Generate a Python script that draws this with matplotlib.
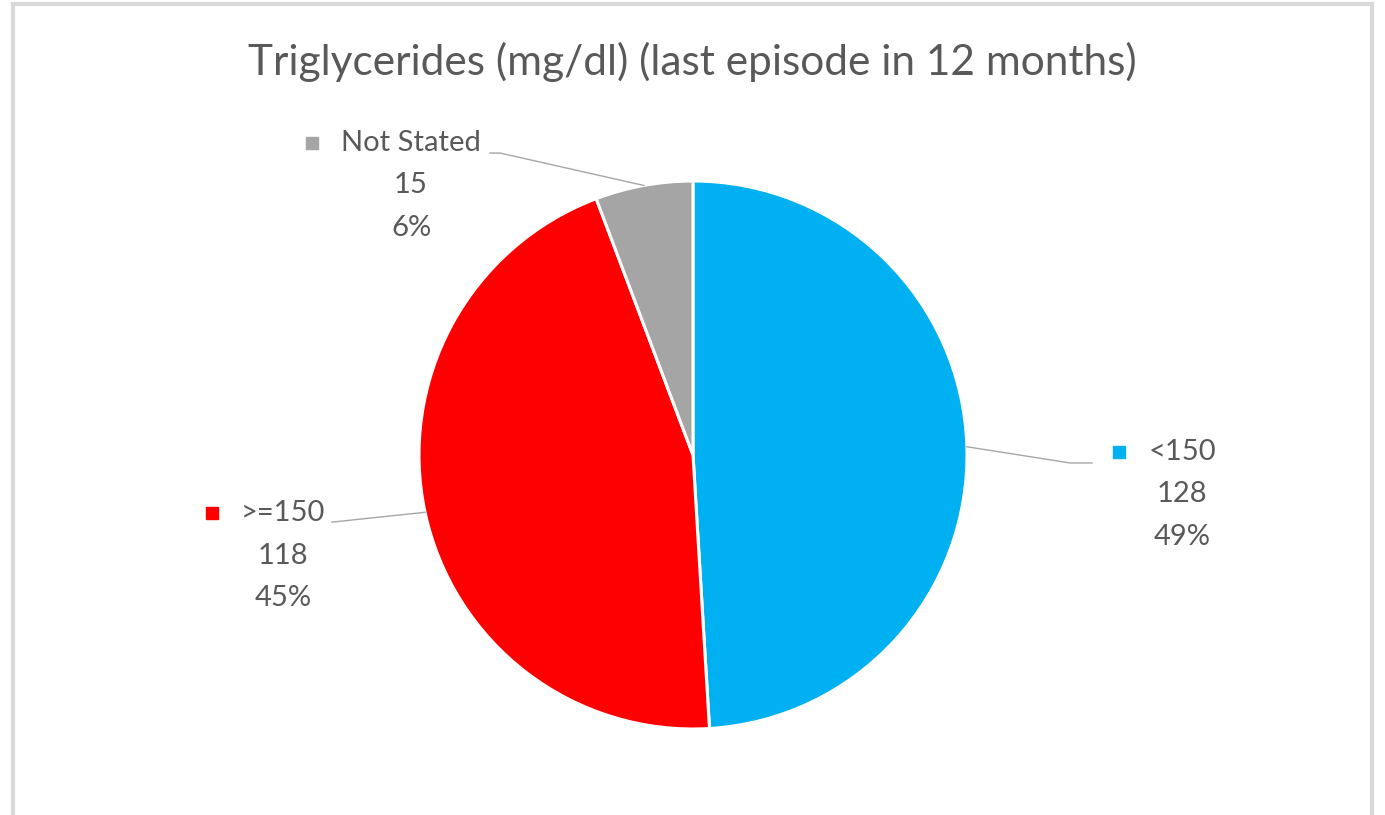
import numpy as np
import matplotlib.pyplot as plt
from matplotlib.patches import Rectangle

plt.rcParams['font.family'] = ['Lato', 'DejaVu Sans']

# data
categories = ['<150', '>=150', 'Not Stated']
counts = [128, 118, 15]
colors = ['#00B0F0', '#FF0000', '#A5A5A5']
title = 'Triglycerides (mg/dl) (last episode in 12 months)'

# label anchors (units of pie radius), leader elbow points
label_pos = [(1.785, 0.011), (-1.496, -0.212), (-1.029, 1.139)]
elbows = [[(1.376, -0.029), (1.456, -0.029)],
          [(-1.318, -0.245)],
          [(-0.704, 1.102), (-0.741, 1.102)]]

W, H = 1385, 815
cx, cy, R = 693, 455, 274
fig = plt.figure(figsize=(W / 100, H / 100), dpi=100)
ax = fig.add_axes([0, 0, 1, 1])

# chart border (bottom cut off in the reference)
fig.patches.append(Rectangle((13 / W, -0.05), (1372 - 13) / W, 1.05 - 4 / H,
                             transform=fig.transFigure, fill=False,
                             edgecolor='#D9D9D9', lw=3))

wedges, _ = ax.pie(counts, colors=colors, startangle=90, counterclock=False,
                   radius=1, center=(0, 0), frame=True,
                   wedgeprops=dict(edgecolor='white', linewidth=2.2))
ax.set_xlim(-cx / R, (W - cx) / R)
ax.set_ylim((cy - H) / R, cy / R)
ax.axis('off')

total = sum(counts)
txt_col = '#595959'
fs = 21
dy = 42.5 / R
fig.canvas.draw()
renderer = fig.canvas.get_renderer()
for w, cat, n, (lx, ly), el, col in zip(wedges, categories, counts, label_pos, elbows, colors):
    mid = np.deg2rad((w.theta1 + w.theta2) / 2)
    pts = [(np.cos(mid), np.sin(mid))] + el
    xs, ys = zip(*pts)
    ax.plot(xs, ys, color='#A6A6A6', lw=1.0, clip_on=False)
    t = ax.text(lx, ly, cat, ha='center', va='center', fontsize=fs, color=txt_col)
    ax.text(lx, ly - dy, str(n), ha='center', va='center', fontsize=fs, color=txt_col)
    ax.text(lx, ly - 2 * dy, '{:.0f}%'.format(100 * n / total), ha='center', va='center',
            fontsize=fs, color=txt_col)
    bb = t.get_window_extent(renderer)
    mx = (bb.x0 - 29 - cx) / R
    ax.plot([mx], [ly], marker='s', markersize=8.6, color=col, clip_on=False)

fig.text(0.5, 1 - 62 / H, title, ha='center', va='center', fontsize=30.5, color=txt_col)

fig.savefig('out.png', dpi=100)
